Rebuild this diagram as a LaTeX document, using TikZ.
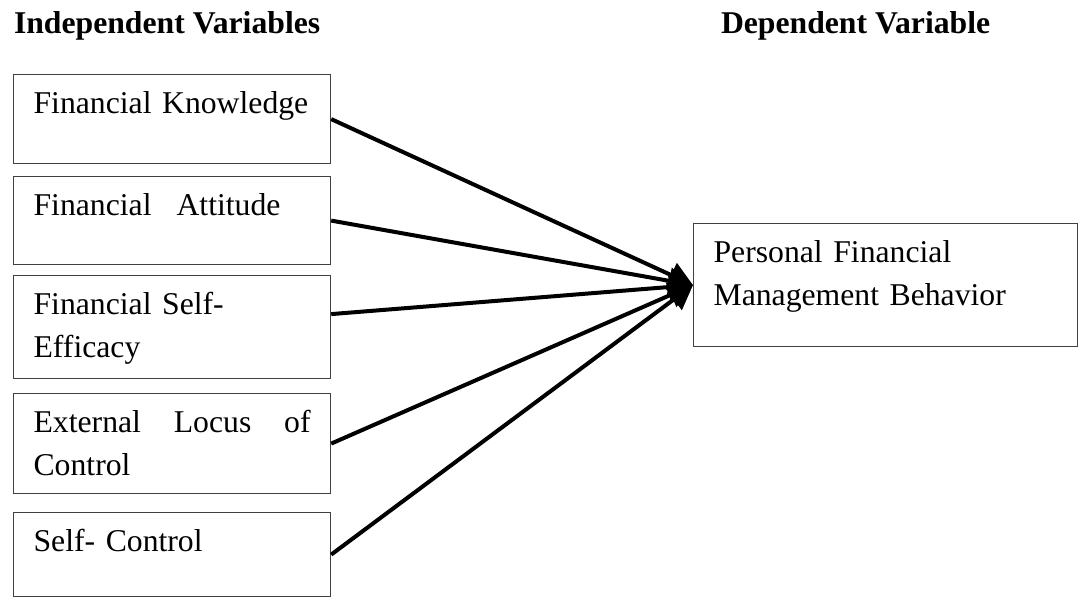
\documentclass[tikz,border=0pt]{standalone}
\usepackage{fontspec}
\setmainfont{Liberation Serif}
\usetikzlibrary{positioning,arrows.meta}

\begin{document}
\begin{tikzpicture}[x=1pt,y=-1pt,->,>={Triangle[length=24pt,width=26pt]},line width=4pt,
                var node/.style={draw=black!75,line width=1.2pt,anchor=north west,align=left,
                  text width=277pt,inner xsep=20pt,inner ysep=0pt,text height=39pt,
                  font=\fontsize{31.7}{43}\selectfont},
                head node/.style={anchor=base west,inner sep=0pt,
                  font=\fontsize{31.7}{38}\selectfont\bfseries}]
\useasboundingbox (0,0) rectangle (1078,597);
%Headings
    \node[head node] (iv) at (12,33) {Independent Variables};
    \node[head node] (dv) at (719,33) {Dependent Variable};
%Nodes
    \node[var node,text depth=50pt] (fk) at (13,74) {Financial Knowledge};
    \node[var node,text depth=49pt] (fa) at (13,176) {Financial\hspace{25pt}Attitude};
    \node[var node,text depth=64pt] (fse) at (13,275) {Financial Self-\\Efficacy};
    \node[var node,text depth=61pt] (elc) at (13,393) {External\hfill Locus\hfill of\\Control};
    \node[var node,text depth=45pt] (sc) at (13,512) {Self- Control};
    \node[var node,text width=344pt,text depth=84pt] (pfmb) at (693,223) {Personal Financial\\Management Behavior};
%Lines
    \draw (fk.east) -- (pfmb.west);
    \draw (fa.east) -- (pfmb.west);
    \draw ([yshift=13pt]fse.east) -- (pfmb.west);
    \draw (elc.east) -- (pfmb.west);
    \draw (sc.east) -- (pfmb.west);
\end{tikzpicture}
\end{document}
